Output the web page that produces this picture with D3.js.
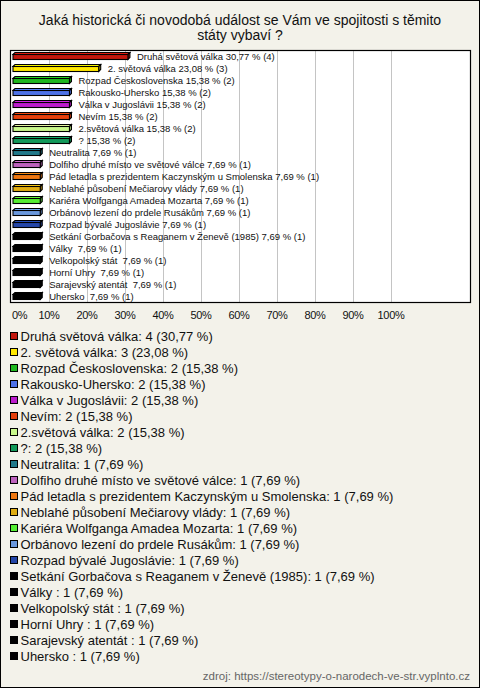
<!DOCTYPE html>
<html><head><meta charset="utf-8">
<script src="https://cdn.jsdelivr.net/npm/d3@7"></script>
<style>
html,body{margin:0;padding:0;background:#f3f2ea;}
svg{display:block;}
text{font-family:"Liberation Sans",Arial,sans-serif;white-space:pre;}
</style></head>
<body>
<svg id="c" width="480" height="688"></svg>
<script>
const title = ["Jaká historická či novodobá událost se Vám ve spojitosti s těmito", "státy vybaví ?"];
const categories = ["Druhá světová válka","2. světová válka","Rozpad Československa","Rakousko-Uhersko","Válka v Jugoslávii","Nevím","2.světová válka","?","Neutralita","Dolfiho druhé místo ve světové válce","Pád letadla s prezidentem Kaczynským u Smolenska","Neblahé působení Mečiarovy vlády","Kariéra Wolfganga Amadea Mozarta","Orbánovo lezení do prdele Rusákům","Rozpad bývalé Jugoslávie","Setkání Gorbačova s Reaganem v Ženevě (1985)","Války ","Velkopolský stát ","Horní Uhry ","Sarajevský atentát ","Uhersko "];
const counts = [4,3,2,2,2,2,2,2,1,1,1,1,1,1,1,1,1,1,1,1,1];
const total = 13;
const colors = ["#c1170d","#ffe800","#1fb81f","#4d72e8","#bb1ccc","#e5400c","#c9f88c","#12995a","#21798a","#bd62bd","#ee7711","#e0ad12","#55ee33","#6a98dd","#2446a8","#000","#000","#000","#000","#000","#000"];
const ticks = [0,10,20,30,40,50,60,70,80,90,100];
const source = "zdroj: https://stereotypy-o-narodech-ve-str.vyplnto.cz";

const pct = counts.map(c => c / total * 100);
const fmt = v => d3.format(".2f")(v).replace(".", ",");

const svg = d3.select("#c");
svg.append("rect").attr("x",0.5).attr("y",0.5).attr("width",479).attr("height",687)
  .attr("fill","#f3f2ea").attr("stroke","#000");

svg.append("g").selectAll("text").data(title).join("text")
  .attr("x",240).attr("y",(d,i)=>25+i*14.5).attr("text-anchor","middle")
  .attr("font-size",14).attr("fill","#111").text(d=>d);

const x = d3.scaleLinear().domain([0,100]).range([11,391]);
const y = d3.scaleBand().domain(d3.range(categories.length)).range([50,302]);

svg.append("rect").attr("x",10.5).attr("y",50.5).attr("width",460).attr("height",252)
  .attr("fill","#fff");

// gridlines
svg.append("g").selectAll("line").data(ticks.filter(t=>t>0)).join("line")
  .attr("x1",d=>x(d)+0.5).attr("x2",d=>x(d)+0.5).attr("y1",51).attr("y2",302)
  .attr("stroke","#c4c4c4").attr("stroke-width",1);

// bars (pseudo-3D)
const gb = svg.append("g");
categories.forEach((c,i)=>{
  const cy = y(i) + y.bandwidth()/2;
  const x0 = x(0)+2, x1 = x(pct[i]);
  const col = d3.color(colors[i]);
  const top = colors[i]==="#000" ? "#000" : col.brighter(0.5);
  const side = colors[i]==="#000" ? "#000" : col.darker(0.6);
  gb.append("path").attr("d",`M${x0},${cy-1.5}L${x0+2},${cy-3.5}L${x1+2},${cy-3.5}L${x1},${cy-1.5}Z`)
    .attr("fill",top).attr("stroke","#000").attr("stroke-width",1.1);
  gb.append("path").attr("d",`M${x1},${cy-1.5}L${x1+2},${cy-3.5}L${x1+2},${cy+1.5}L${x1},${cy+3.5}Z`)
    .attr("fill",side).attr("stroke","#000").attr("stroke-width",1.1);
  gb.append("rect").attr("x",x0).attr("y",cy-1.5).attr("width",x1-x0).attr("height",5)
    .attr("fill",colors[i]).attr("stroke","#000").attr("stroke-width",1.1);
});

// bar labels
svg.append("g").selectAll("text").data(categories).join("text")
  .attr("x",(d,i)=>x(pct[i])+9).attr("y",(d,i)=>y(i)+y.bandwidth()/2+3.5)
  .attr("font-size",9.5).attr("fill","#111")
  .text((d,i)=>`${d} ${fmt(pct[i])} % (${counts[i]})`);

svg.append("rect").attr("x",10.5).attr("y",50.5).attr("width",460).attr("height",252)
  .attr("fill","none").attr("stroke","#000").attr("stroke-width",1.2);

// x axis labels
svg.append("g").selectAll("text").data(ticks).join("text")
  .attr("x",d=>d===0?12:x(d)).attr("y",319)
  .attr("text-anchor",d=>d===0?"start":"middle")
  .attr("font-size",11).attr("fill","#111").attr("letter-spacing",-0.3)
  .text(d=>d+"%");

// legend
const lg = svg.append("g").selectAll("g").data(categories).join("g")
  .attr("transform",(d,i)=>`translate(0,${336+i*16})`);
lg.append("rect").attr("x",10.5).attr("y",-3.5).attr("width",7).attr("height",7)
  .attr("fill",(d,i)=>colors[i]).attr("stroke","#000");
lg.append("text").attr("x",20.5).attr("y",5).attr("font-size",13).attr("fill","#111")
  .text((d,i)=>`${d}: ${counts[i]} (${fmt(pct[i])} %)`);

svg.append("text").attr("x",470).attr("y",680).attr("text-anchor","end")
  .attr("font-size",11.5).attr("fill","#666").text(source);
</script>
</body></html>
